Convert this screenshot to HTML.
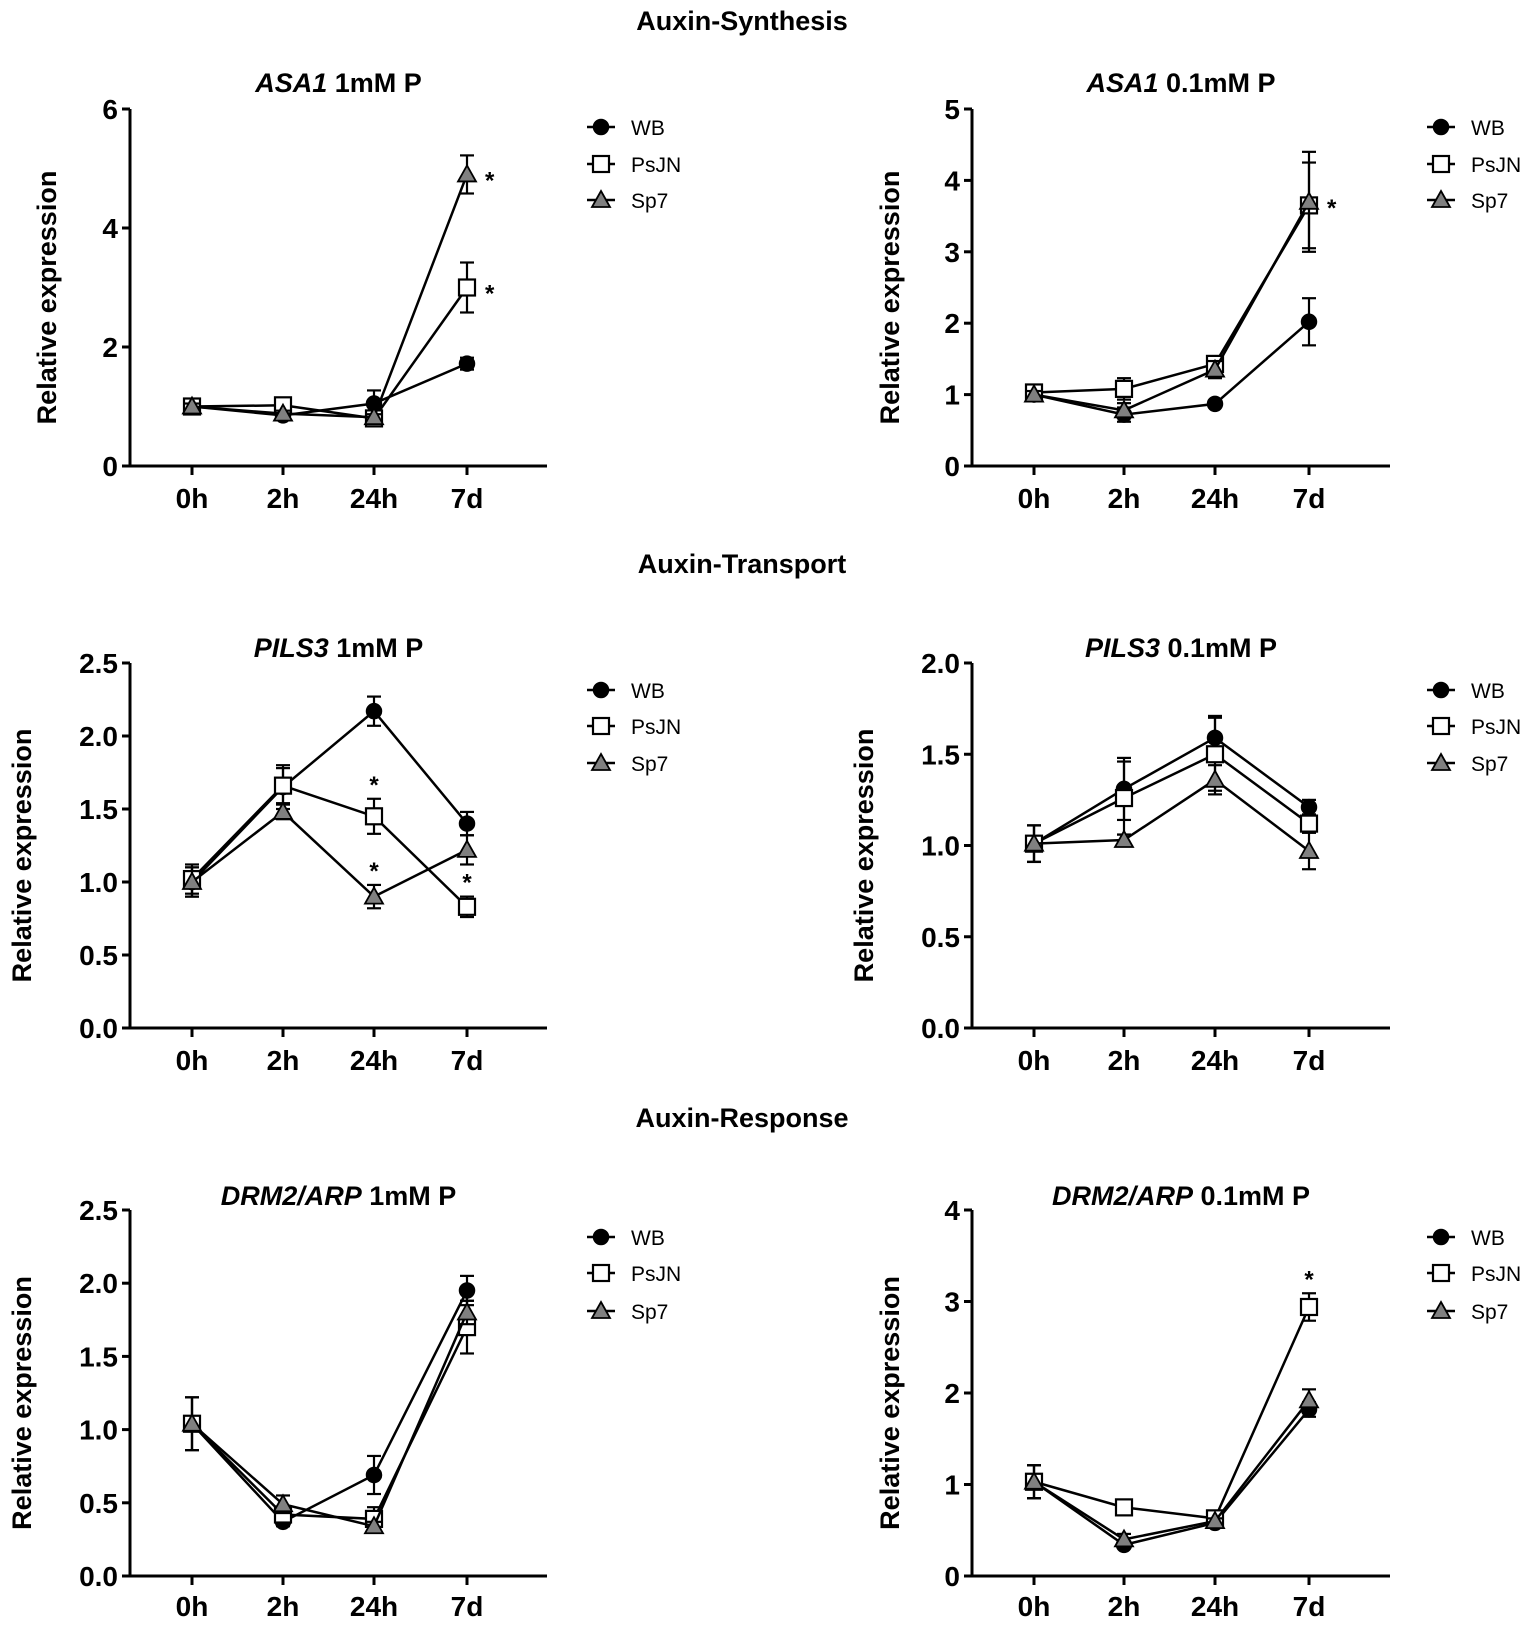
<!DOCTYPE html>
<html><head><meta charset="utf-8"><style>
body{margin:0;background:#fff}
svg{display:block}
text{font-family:"Liberation Sans",Arial,sans-serif;fill:#000}
</style></head><body>
<svg id="fig" width="1535" height="1628" viewBox="0 0 1535 1628"></svg>
<script>
const categories=["0h","2h","24h","7d"];
const seriesNames=["WB","PsJN","Sp7"];
const sectionTitles=["Auxin-Synthesis","Auxin-Transport","Auxin-Response"];
// panel values
const asa1_1_WB=[1,0.85,1.05,1.72], asa1_1_WBe=[.05,.05,.22,.1];
const asa1_1_PsJN=[1,1.02,0.8,3.0], asa1_1_PsJNe=[.05,.05,.05,.42];
const asa1_1_Sp7=[1,0.88,0.82,4.9], asa1_1_Sp7e=[.05,.05,.05,.32];
const asa1_01_WB=[1,0.72,0.87,2.02], asa1_01_WBe=[.05,.1,.03,.33];
const asa1_01_PsJN=[1.03,1.08,1.43,3.65], asa1_01_PsJNe=[.05,.15,.08,.6];
const asa1_01_Sp7=[1,0.78,1.35,3.7], asa1_01_Sp7e=[.05,.1,.12,.7];
const pils_1_WB=[1,1.65,2.17,1.4], pils_1_WBe=[.1,.15,.1,.08];
const pils_1_PsJN=[1.02,1.66,1.45,0.83], pils_1_PsJNe=[.1,.12,.12,.07];
const pils_1_Sp7=[1,1.48,0.9,1.22], pils_1_Sp7e=[.1,.05,.08,.1];
const pils_01_WB=[1.01,1.31,1.59,1.21], pils_01_WBe=[.1,.17,.12,.04];
const pils_01_PsJN=[1.01,1.26,1.5,1.12], pils_01_PsJNe=[.1,.2,.2,.05];
const pils_01_Sp7=[1.01,1.03,1.36,0.97], pils_01_Sp7e=[.1,.03,.08,.1];
const drm_1_WB=[1.04,0.37,0.69,1.95], drm_1_WBe=[.18,.03,.13,.1];
const drm_1_PsJN=[1.04,0.42,0.39,1.7], drm_1_PsJNe=[.18,.03,.08,.18];
const drm_1_Sp7=[1.04,0.49,0.34,1.8], drm_1_Sp7e=[.18,.06,.03,.08];
const drm_01_WB=[1.03,0.34,0.58,1.82], drm_01_WBe=[.18,.03,.03,.08];
const drm_01_PsJN=[1.03,0.75,0.63,2.94], drm_01_PsJNe=[.18,.05,.03,.15];
const drm_01_Sp7=[1.03,0.4,0.6,1.92], drm_01_Sp7e=[.18,.06,.03,.12];
const ticks6=["0","2","4","6"], ticks5=["0","1","2","3","4","5"], ticks25=["0.0","0.5","1.0","1.5","2.0","2.5"], ticks20=["0.0","0.5","1.0","1.5","2.0"], ticks4=["0","1","2","3","4"];

const NS="http://www.w3.org/2000/svg";
const svg=document.getElementById('fig');
function mk(tag,attrs,parent,txt){const e=document.createElementNS(NS,tag);for(const k in attrs)e.setAttribute(k,attrs[k]);if(txt!=null)e.textContent=txt;(parent||svg).appendChild(e);return e;}

const panels=[
 {gene:"ASA1",cond:" 1mM P",ax:130,ex:547,cx:[192,283,374,467],y0:466,yt:109,max:6,ticks:ticks6,tickStep:2,ylx:44,leg:601,legY:[127,164,200],tY:92,xl:498,
  s:[[asa1_1_WB,asa1_1_WBe],[asa1_1_PsJN,asa1_1_PsJNe],[asa1_1_Sp7,asa1_1_Sp7e]],stars:[[1,3,'r'],[2,3,'r']]},
 {gene:"ASA1",cond:" 0.1mM P",ax:972,ex:1390,cx:[1034,1124,1215,1309],y0:466,yt:109,max:5,ticks:ticks5,tickStep:1,ylx:887,leg:1441,legY:[127,164,200],tY:92,xl:498,
  s:[[asa1_01_WB,asa1_01_WBe],[asa1_01_PsJN,asa1_01_PsJNe],[asa1_01_Sp7,asa1_01_Sp7e]],stars:[[2,3,'r']]},
 {gene:"PILS3",cond:" 1mM P",ax:130,ex:547,cx:[192,283,374,467],y0:1028,yt:663,max:2.5,ticks:ticks25,tickStep:.5,ylx:19,leg:601,legY:[690,726,763],tY:657,xl:1060,
  s:[[pils_1_WB,pils_1_WBe],[pils_1_PsJN,pils_1_PsJNe],[pils_1_Sp7,pils_1_Sp7e]],stars:[[1,2,'t'],[2,2,'t'],[1,3,'t']]},
 {gene:"PILS3",cond:" 0.1mM P",ax:972,ex:1390,cx:[1034,1124,1215,1309],y0:1028,yt:663,max:2.0,ticks:ticks20,tickStep:.5,ylx:861,leg:1441,legY:[690,726,763],tY:657,xl:1060,
  s:[[pils_01_WB,pils_01_WBe],[pils_01_PsJN,pils_01_PsJNe],[pils_01_Sp7,pils_01_Sp7e]],stars:[]},
 {gene:"DRM2/ARP",cond:" 1mM P",ax:130,ex:547,cx:[192,283,374,467],y0:1576,yt:1210,max:2.5,ticks:ticks25,tickStep:.5,ylx:19,leg:601,legY:[1237,1273,1311],tY:1205,xl:1606,
  s:[[drm_1_WB,drm_1_WBe],[drm_1_PsJN,drm_1_PsJNe],[drm_1_Sp7,drm_1_Sp7e]],stars:[]},
 {gene:"DRM2/ARP",cond:" 0.1mM P",ax:972,ex:1390,cx:[1034,1124,1215,1309],y0:1576,yt:1210,max:4,ticks:ticks4,tickStep:1,ylx:887,leg:1441,legY:[1237,1273,1311],tY:1205,xl:1606,
  s:[[drm_01_WB,drm_01_WBe],[drm_01_PsJN,drm_01_PsJNe],[drm_01_Sp7,drm_01_Sp7e]],stars:[[1,3,'t']]}
];
const secY=[30,573,1127];
sectionTitles.forEach((t,i)=>{const e=mk('text',{x:742,y:secY[i],'text-anchor':'middle','font-size':27,'font-weight':'bold'},svg,t);

});

function marker(g,k,x,y){
 let e;
 if(k===0) e=mk('circle',{cx:x,cy:y,r:7.5,fill:'#000',stroke:'#000','stroke-width':1.5},g);
 else if(k===1) e=mk('rect',{x:x-8,y:y-8,width:16,height:16,fill:'#fff',stroke:'#000','stroke-width':2.2},g);
 else e=mk('path',{d:`M${x},${y-9}L${x+9},${y+7}L${x-9},${y+7}Z`,fill:'#808080',stroke:'#000','stroke-width':1.8},g);
 return e;
}

panels.forEach((p,pi)=>{
 const g=mk('g',{});
 
 
 const Y=v=>p.y0-(v/p.max)*(p.y0-p.yt);
 const midX=(p.ax+p.ex)/2;
 const tt=mk('text',{x:midX,y:p.tY,'text-anchor':'middle','font-size':27,'font-weight':'bold'},g);
 
 
 mk('tspan',{'font-style':'italic'},tt,p.gene);mk('tspan',{},tt,p.cond);
 const ya=mk('line',{x1:p.ax,y1:p.yt,x2:p.ax,y2:p.y0,stroke:'#000','stroke-width':3},g);
 
 
 const xa=mk('line',{x1:p.ax-1.5,y1:p.y0,x2:p.ex,y2:p.y0,stroke:'#000','stroke-width':3},g);
 
 
 p.ticks.forEach((t,i)=>{const y=Y(i*p.tickStep);
  mk('line',{x1:p.ax-8,y1:y,x2:p.ax,y2:y,stroke:'#000','stroke-width':3},g);
  const tl=mk('text',{x:p.ax-12,y:y+10,'text-anchor':'end','font-size':28,'font-weight':'bold'},g,t);
  
  });
 categories.forEach((c,i)=>{
  mk('line',{x1:p.cx[i],y1:p.y0,x2:p.cx[i],y2:p.y0+9,stroke:'#000','stroke-width':3},g);
  const tl=mk('text',{x:p.cx[i],y:p.xl+10,'text-anchor':'middle','font-size':28,'font-weight':'bold'},g,c);
  
  });
 const yl=mk('text',{x:0,y:0,'text-anchor':'middle','font-size':27,'font-weight':'bold',transform:`translate(${p.ylx+12},${(p.y0+p.yt)/2+10}) rotate(-90)`},g,'Relative expression');
 
 
 p.s.forEach(([vals,errs],k)=>{
  const sg=mk('g',{},g);
  
  
  const pts=vals.map((v,i)=>p.cx[i]+','+Y(v)).join(' ');
  mk('polyline',{points:pts,fill:'none',stroke:'#000','stroke-width':2.5},sg);
  vals.forEach((v,i)=>{const x=p.cx[i];
   mk('line',{x1:x,y1:Y(v+errs[i]),x2:x,y2:Y(v-errs[i]),stroke:'#000','stroke-width':2.2},sg);
   mk('line',{x1:x-7,y1:Y(v+errs[i]),x2:x+7,y2:Y(v+errs[i]),stroke:'#000','stroke-width':2.2},sg);
   mk('line',{x1:x-7,y1:Y(v-errs[i]),x2:x+7,y2:Y(v-errs[i]),stroke:'#000','stroke-width':2.2},sg);
  });
  vals.forEach((v,i)=>{const m=marker(sg,k,p.cx[i],Y(v));
   
   });
 });
 p.stars.forEach(([k,i,pos])=>{const v=p.s[k][0][i],e=p.s[k][1][i];
  let x,y;
  if(pos==='r'){x=p.cx[i]+18;y=Y(v)+14;}else{x=p.cx[i];y=Y(v+e)-6;}
  const st=mk('text',{x:x,y:y,'text-anchor':pos==='r'?'start':'middle','font-size':24,'font-weight':'bold'},g,'*');
  
  });
 seriesNames.forEach((n,k)=>{const lg=mk('g',{},g);
  
  
  const y=p.legY[k];
  mk('line',{x1:p.leg-14,y1:y,x2:p.leg+14,y2:y,stroke:'#000','stroke-width':2.5},lg);
  marker(lg,k,p.leg,y);
  mk('text',{x:p.leg+30,y:y+8,'font-size':21},lg,n);
 });
});
</script>
</body></html>
